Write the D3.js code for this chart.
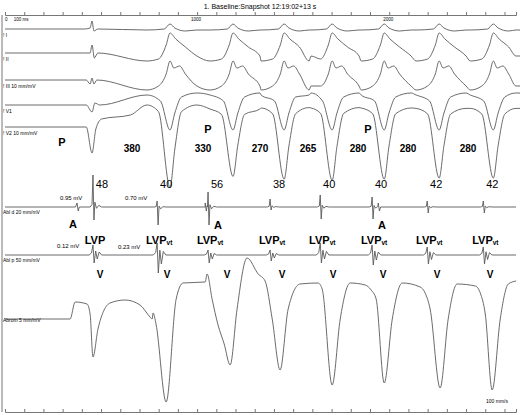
<!DOCTYPE html>
<html><head><meta charset="utf-8">
<script src="https://cdn.jsdelivr.net/npm/d3@7"></script>
<style>body{margin:0;background:#fff}text{font-family:"Liberation Sans",Arial,sans-serif}</style>
</head><body>
<script>
// beat times (ms)
const surfaceBeats = [453, 859, 1187, 1453, 1703, 1974, 2260, 2542];
const ablBeats = [458, 792, 1057, 1380, 1641, 1911, 2198, 2490];
const atrialTimes = [375, 1042, 1943];

// surface lead templates [offset ms, deflection]; first beat is sinus, rest VT
const leads = [
  {name: "I", base: 29, sinus: [[-40,0],[-10,1],[0,8],[10,-2],[30,0]],
   vt: [[-120,-1],[-30,0],[0,5],[25,1],[80,-2],[140,-1]], amp: [1,1,1,1,1,1,1]},
  {name: "II", base: 53, sinus: [[-40,0],[-10,0],[0,8],[12,-5],[30,0]],
   vt: [[-120,-8],[-60,-6],[-20,8],[0,20],[30,14],[80,6],[140,-3]], amp: [1,1,1,1,1,1,1]},
  {name: "III  10 mm/mV", base: 80, sinus: [[-30,0],[-10,-4],[0,2],[10,-4],[25,0]],
   vt: [[-120,-10],[-60,-6],[-20,6],[0,19],[20,12],[50,14],[80,6],[140,-6]], amp: [1,1,1,1,1,1,1]},
  {name: "V1", base: 105, sinus: [[-30,0],[0,-7],[15,2],[40,0]],
   vt: [[-120,10],[-50,4],[0,-25],[25,-8],[60,8],[140,12]], amp: [1,1,1,1,1,1,1]},
  {name: "V2  10 mm/mV", base: 127, sinus: [[-30,0],[0,-26],[20,-2],[50,8],[200,12]],
   vt: [[-120,20],[-60,14],[0,-55],[25,-20],[60,14],[140,20]], amp: [1.1,0.9,0.95,0.97,0.95,0.93,0.93]}
];

// Abl d / Abl p spike sizes per beat [up, down]
const ablD = [[32,13],[6,18],[15,18],[8,3],[12,12],[10,12],[6,6],[6,6]];
const ablP = [[10,8],[12,18],[5,8],[5,6],[12,8],[10,10],[8,9],[8,9]];
const ablDShape = [[-15,0],[-5,0.08],[0,1],[5,-1],[10,0.15],[18,-0.1],[30,0.05],[45,0]];
const ablPShape = [[-20,0],[-8,0.2],[0,1],[6,-1],[14,0.4],[22,-0.5],[32,0.3],[45,0]];
const atrialShape = [[-8,0],[0,4],[6,-4],[12,0]];

// Abrom trace keypoints [ms, deflection]
const abrom = [[0,0],[339,0],[365,17],[427,15],[443,5],[458,-38],[484,-10],[547,16],[625,19],[703,14],
  [755,2],[766,0],[771,6],[786,-5],[839,-83],[891,20],[927,36],[1042,37],[1052,45],[1078,20],[1109,-6],
  [1141,-25],[1172,-46],[1208,10],[1260,61],[1318,45],[1354,38],[1391,0],[1432,-51],[1474,10],[1536,35],
  [1630,36],[1651,30],[1703,-66],[1745,0],[1797,36],[1875,34],[1906,29],[1932,20],[1974,-64],[2016,0],
  [2068,36],[2161,32],[2187,26],[2213,10],[2265,-69],[2307,0],[2354,35],[2448,33],[2474,26],[2500,5],
  [2536,-71],[2578,0],[2620,35],[2661,38]];

const intervals = [["380",132],["330",203],["270",260],["265",308],["280",358],["280",408],["280",468]];
const localTimes = ["48","40","56","38","40","40","42","42"];

const W = 520, H = 415;
const x = d3.scaleLinear().domain([0, 2660]).range([5, 516]);
const svg = d3.select("body").append("svg").attr("width", W).attr("height", H);
const ink = "#5a5a5a";

function build(beats, ev) {
  let pts = [[0,0]];
  beats.forEach((t, i) => ev(i).forEach(p => pts.push([t + p[0], p[1]])));
  pts.push([2660, pts[pts.length-1][1]]);
  return pts.sort((a, b) => a[0] - b[0]);
}
function draw(pts, base, curve) {
  const y = d3.scaleLinear().domain([-1, 1]).range([base + 1, base - 1]);
  svg.append("path").datum(pts).attr("fill", "none").attr("stroke", ink).attr("stroke-width", 0.9)
    .attr("d", d3.line().x(d => x(d[0])).y(d => y(d[1])).curve(curve)(pts));
}
function label(t, xx, yy, size, weight) {
  return svg.append("text").attr("x", xx).attr("y", yy).attr("font-size", size)
    .attr("font-weight", weight || "normal").text(t);
}

// frame and axes
svg.append("line").attr("x1", 2).attr("x2", 2).attr("y1", 15).attr("y2", 412).attr("stroke", "#777");
const timeAxis = d3.axisTop(x).tickValues(d3.range(0, 2700, 100)).tickSize(3).tickFormat("");
svg.append("g").attr("transform", "translate(0,15)").call(timeAxis).call(g => g.selectAll("path,line").attr("stroke", "#777"));
svg.append("g").attr("transform", "translate(0,412)").call(timeAxis).call(g => g.selectAll("path,line").attr("stroke", "#777"));
label("0", x(0), 21, 4.5); label("100 ms", x(45), 21, 4.5);
label("1000", x(1000) - 6, 21, 4.5); label("2000", x(2000) - 6, 21, 4.5);
label("1. Baseline:Snapshot 12:19:02+13 s", 260, 9, 7).attr("text-anchor", "middle");

// surface leads
leads.forEach(l => {
  draw(build(surfaceBeats, i => i === 0 ? l.sinus : l.vt.map(p => [p[0], p[1] * l.amp[i-1]])), l.base, d3.curveMonotoneX);
  label("! " + l.name, 3, l.base + 8, 5);
});

// Abl d
const dPts = build(ablBeats, i => ablDShape.map(p => [p[0], p[1] * (p[1] >= 0 ? ablD[i][0] : ablD[i][1])]))
  .concat(atrialTimes.flatMap(t => atrialShape.map(p => [t + p[0], p[1]]))).sort((a, b) => a[0] - b[0]);
draw(dPts, 207, d3.curveLinear);
label("Abl d  20 mm/mV", 3, 214, 5);
// Abl p
draw(build(ablBeats, i => ablPShape.map(p => [p[0], p[1] * (p[1] >= 0 ? ablP[i][0] : ablP[i][1])])), 255, d3.curveLinear);
label("Abl p  50 mm/mV", 3, 262, 5);
// Abrom
draw(abrom, 319, d3.curveMonotoneX);
label("Abrom  5 mm/mV", 3, 322, 5);
label("100 mm/s", 486, 403, 5);

// annotations
[["P",62,146],["P",208,133],["P",368,133]].forEach(a => label(a[0], a[1], a[2], 11, "bold").attr("text-anchor","middle"));
intervals.forEach(a => label(a[0], a[1], 152, 10, "bold").attr("text-anchor","middle"));
ablBeats.forEach((t, i) => label(localTimes[i], x(t) + 9, 188, 11).attr("text-anchor","middle"));
label("0.95 mV", 60, 200, 6); label("0.70 mV", 125, 200, 6);
label("0.12 mV", 57, 248, 6); label("0.23 mV", 118, 249, 6);
[["A",73,228],["A",218,229],["A",382,229]].forEach(a => label(a[0], a[1], a[2], 11, "bold").attr("text-anchor","middle"));
ablBeats.forEach((t, i) => {
  const tx = label("LVP", x(t) + 2, 244, 11, "bold").attr("text-anchor","middle");
  if (i > 0) tx.append("tspan").attr("font-size", 6.5).attr("dy", 1).text("vt");
});
[100,167,227,282,333,383,437,490].forEach(v => label("V", v, 278, 10, "bold").attr("text-anchor","middle"));
</script>
</body></html>
